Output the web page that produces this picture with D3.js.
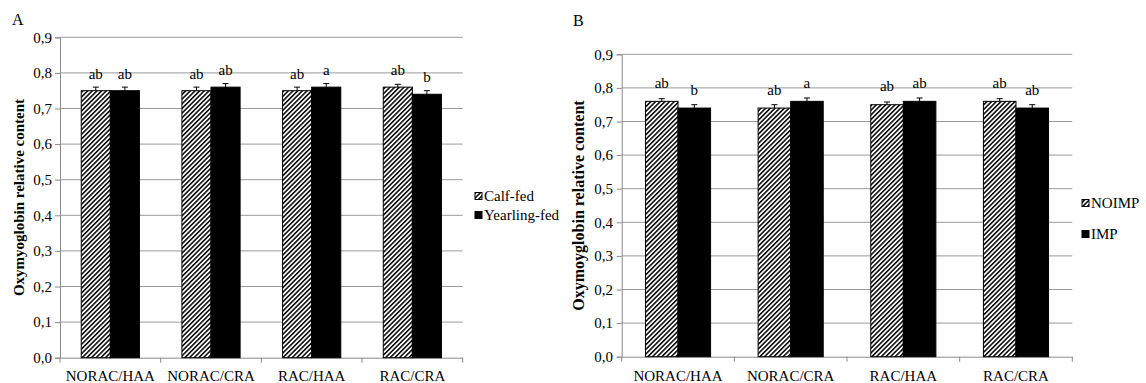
<!DOCTYPE html>
<html>
<head>
<meta charset="utf-8">
<script src="https://cdn.jsdelivr.net/npm/d3@7"></script>
<style>
  body { margin: 0; background: #fff; }
  svg text { font-family: 'Liberation Serif', 'Tinos', 'Times New Roman', 'DejaVu Serif', serif !important; fill: #000; }
</style>
</head>
<body>
<div id="chart"></div>
<script>
// categories shared by both panels
var categories = ["NORAC/HAA", "NORAC/CRA", "RAC/HAA", "RAC/CRA"];
var yTicks = [0, 0.1, 0.2, 0.3, 0.4, 0.5, 0.6, 0.7, 0.8, 0.9];

// panel A
var seriesA = ["Calf-fed", "Yearling-fed"];
var calfFed = [0.75, 0.75, 0.75, 0.76];
var yearlingFed = [0.75, 0.76, 0.76, 0.74];
var errCalf = [0.01, 0.01, 0.01, 0.008];
var errYearling = [0.01, 0.01, 0.01, 0.01];
var lettersCalf = ["ab", "ab", "ab", "ab"];
var lettersYearling = ["ab", "ab", "a", "b"];

// panel B
var seriesB = ["NOIMP", "IMP"];
var noimp = [0.76, 0.74, 0.75, 0.76];
var imp = [0.74, 0.76, 0.76, 0.74];
var errNoimp = [0.008, 0.01, 0.008, 0.008];
var errImp = [0.01, 0.01, 0.01, 0.01];
var lettersNoimp = ["ab", "ab", "ab", "ab"];
var lettersImp = ["b", "a", "ab", "ab"];

var serif = "'Liberation Serif', 'Tinos', 'Times New Roman', 'DejaVu Serif', serif";

var svg = d3.select("#chart")
  .append("svg")
    .attr("width", 1146)
    .attr("height", 383)
    .attr("font-family", serif);

// diagonal hatch
var pat = svg.append("defs").append("pattern")
    .attr("id", "hatch")
    .attr("patternUnits", "userSpaceOnUse")
    .attr("width", 3.3)
    .attr("height", 3.3)
    .attr("patternTransform", "rotate(45)");
pat.append("rect").attr("width", 3.3).attr("height", 3.3).attr("fill", "#fff");
pat.append("line")
    .attr("x1", 0.8).attr("y1", 0).attr("x2", 0.8).attr("y2", 3.3)
    .attr("stroke", "#000").attr("stroke-width", 1.5);

function drawPanel(p) {
  var g = svg.append("g");

  var y = d3.scaleLinear().domain([0, 0.9]).range([p.bottom, p.top]);
  var x = d3.scaleBand().domain(categories).range([p.left, p.right]).padding(0);
  var xs = d3.scaleBand().domain([0, 1]).range([0, x.bandwidth()])
    .paddingInner(0).paddingOuter(0.73);

  // gridlines
  g.append("g").selectAll("line")
    .data(yTicks.slice(1))
    .enter().append("line")
      .attr("x1", p.left).attr("x2", p.right)
      .attr("y1", function(d) { return y(d); })
      .attr("y2", function(d) { return y(d); })
      .attr("stroke", "#9a9a9a").attr("stroke-width", 1);

  // y axis
  var yAxis = g.append("g")
    .attr("transform", "translate(" + p.left + ",0)")
    .call(d3.axisLeft(y).tickValues(yTicks).tickSize(5).tickPadding(p.tickPad)
      .tickFormat(function(d) { return d3.format(".1f")(d).replace(".", ","); }));
  yAxis.attr("font-family", serif).attr("font-size", p.fontSize);
  yAxis.selectAll("line, path").attr("stroke", "#8a8a8a");

  // x axis
  var xAxis = g.append("g")
    .attr("transform", "translate(0," + p.bottom + ")")
    .call(d3.axisBottom(x).tickSize(0).tickPadding(p.xPad));
  xAxis.attr("font-family", serif).attr("font-size", p.fontSize);
  xAxis.select("path").attr("stroke", "#8a8a8a");

  var bounds = categories.map(function(c) { return x(c); }).concat([p.right]);
  g.append("g").selectAll("line")
    .data(bounds)
    .enter().append("line")
      .attr("x1", function(d) { return d; }).attr("x2", function(d) { return d; })
      .attr("y1", p.bottom).attr("y2", p.bottom + 5)
      .attr("stroke", "#8a8a8a");

  // bars
  p.series.forEach(function(s, si) {
    var vals = p.values[si];
    var gs = g.append("g");
    gs.selectAll("rect")
      .data(vals)
      .enter().append("rect")
        .attr("x", function(d, i) { return x(categories[i]) + xs(si); })
        .attr("y", function(d) { return y(d); })
        .attr("width", xs.bandwidth())
        .attr("height", function(d) { return y(0) - y(d); })
        .attr("fill", si === 0 ? "url(#hatch)" : "#000")
        .attr("stroke", "#000").attr("stroke-width", 1);

    // error bars (upper)
    gs.selectAll("path.err")
      .data(vals)
      .enter().append("path")
        .attr("class", "err")
        .attr("d", function(d, i) {
          var cx = x(categories[i]) + xs(si) + xs.bandwidth() / 2;
          var t = y(d + p.errors[si][i]);
          return "M" + cx + "," + y(d) + "V" + t + "M" + (cx - 3) + "," + t + "H" + (cx + 3);
        })
        .attr("stroke", "#000").attr("stroke-width", 1).attr("fill", "none");

    // significance letters
    gs.selectAll("text")
      .data(vals)
      .enter().append("text")
        .attr("x", function(d, i) { return x(categories[i]) + xs(si) + xs.bandwidth() / 2; })
        .attr("y", function(d) { return y(d) - p.letterGap; })
        .attr("text-anchor", "middle")
        .attr("font-size", p.fontSize)
        .text(function(d, i) { return p.letters[si][i]; });
  });

  // axis title
  g.append("text")
    .attr("transform", "translate(" + p.titleX + "," + (p.top + p.bottom) / 2 + ") rotate(-90)")
    .attr("text-anchor", "middle")
    .attr("dy", "0.35em")
    .attr("font-size", p.titleSize)
    .attr("font-weight", "bold")
    .text(p.title);

  // panel letter
  g.append("text")
    .attr("x", p.tagX).attr("y", p.tagY)
    .attr("font-size", 16)
    .text(p.tag);

  // legend
  var lg = g.append("g");
  p.series.forEach(function(s, si) {
    var ly = p.legendY[si];
    lg.append("rect")
      .attr("x", p.legendX).attr("y", ly - 3.5)
      .attr("width", 7).attr("height", 7)
      .attr("fill", si === 0 ? "url(#hatch)" : "#000")
      .attr("stroke", "#000").attr("stroke-width", 1);
    lg.append("text")
      .attr("x", p.legendX + 9).attr("y", ly)
      .attr("dy", "0.35em")
      .attr("font-size", p.fontSize)
      .text(s);
  });
}

drawPanel({
  left: 60, right: 462.7, top: 37.3, bottom: 357.7,
  series: seriesA, values: [calfFed, yearlingFed], errors: [errCalf, errYearling],
  letters: [lettersCalf, lettersYearling],
  fontSize: 15, tickPad: 3, xPad: 12.7, letterGap: 12,
  title: "Oxymyoglobin relative content", titleX: 18.5, titleSize: 15,
  tag: "A", tagX: 12, tagY: 25,
  legendX: 475, legendY: [196, 215]
});

drawPanel({
  left: 621.7, right: 1072.3, top: 54.3, bottom: 356.7,
  series: seriesB, values: [noimp, imp], errors: [errNoimp, errImp],
  letters: [lettersNoimp, lettersImp],
  fontSize: 15, tickPad: 3.7, xPad: 13.6, letterGap: 13.5,
  title: "Oxymoyglobin relative content", titleX: 578, titleSize: 16,
  tag: "B", tagX: 573, tagY: 26,
  legendX: 1082, legendY: [203, 234]
});
</script>
</body>
</html>
